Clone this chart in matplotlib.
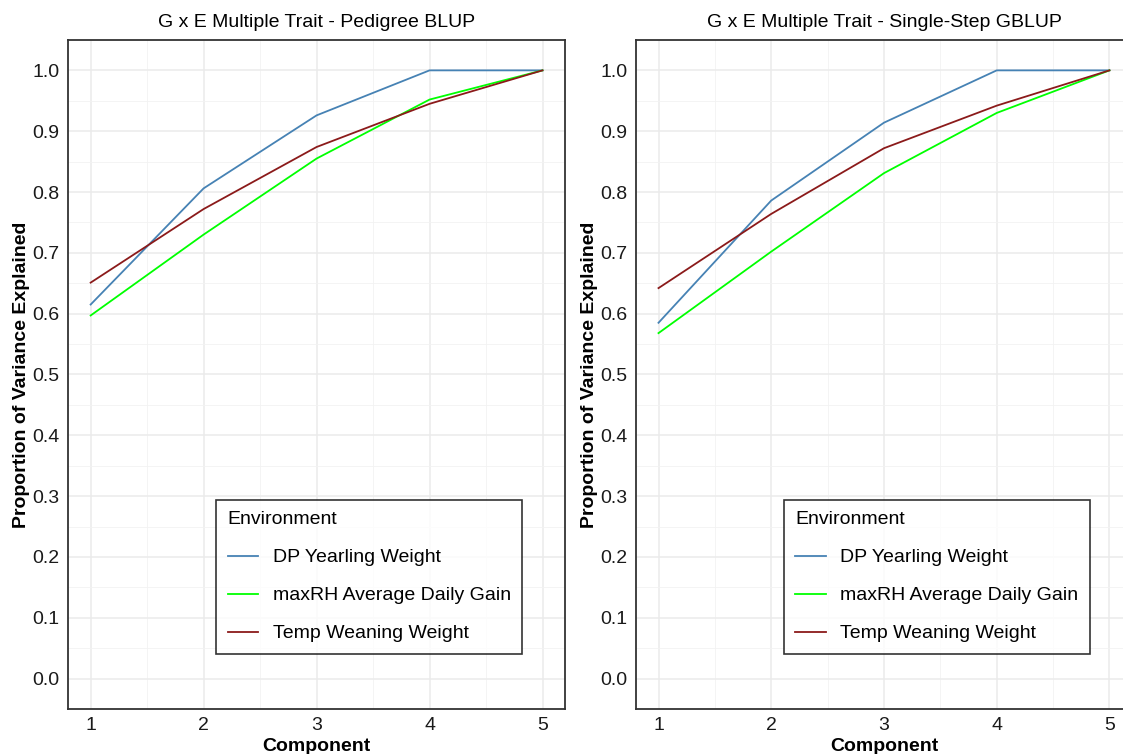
import numpy as np
import matplotlib.pyplot as plt

plt.rcParams['font.family'] = ['Liberation Sans', 'DejaVu Sans']

component = [1, 2, 3, 4, 5]
envs = ['DP Yearling Weight', 'maxRH Average Daily Gain', 'Temp Weaning Weight']
colors = ['#4682b4', '#00ff00', '#8b1a1a']

# Pedigree BLUP
ped_dp = [0.615, 0.806, 0.926, 1.0, 1.0]
ped_rh = [0.597, 0.730, 0.855, 0.952, 1.0]
ped_temp = [0.651, 0.772, 0.874, 0.945, 1.0]

# Single-Step GBLUP
ss_dp = [0.585, 0.786, 0.914, 1.0, 1.0]
ss_rh = [0.568, 0.702, 0.831, 0.930, 1.0]
ss_temp = [0.642, 0.764, 0.872, 0.942, 1.0]

titles = ['G x E Multiple Trait - Pedigree BLUP',
          'G x E Multiple Trait - Single-Step GBLUP']
panels = [[ped_dp, ped_rh, ped_temp], [ss_dp, ss_rh, ss_temp]]

fig = plt.figure(figsize=(11.23, 7.54), dpi=100)
positions = [[0.0606, 0.0597, 0.4426, 0.8873],
             [0.5663, 0.0597, 0.4417, 0.8873]]

for pos, title, series in zip(positions, titles, panels):
    ax = fig.add_axes(pos)
    for vals, lab, c in zip(series, envs, colors):
        ax.plot(component, vals, color=c, lw=1.3, label=lab)
    ax.set_xlim(0.8, 5.2)
    ax.set_ylim(-0.05, 1.05)
    ax.set_xticks(component)
    ax.set_yticks(np.arange(0, 1.01, 0.1))
    ax.set_yticklabels(['%.1f' % v for v in np.arange(0, 1.01, 0.1)])
    ax.set_xticks(np.arange(1.5, 5, 1), minor=True)
    ax.set_yticks(np.arange(0.05, 1.0, 0.1), minor=True)
    ax.grid(which='major', color='#ebebeb', linewidth=1.1)
    ax.grid(which='minor', color='#f2f2f2', linewidth=0.6)
    ax.set_axisbelow(True)
    ax.tick_params(which='both', length=0, labelsize=14, colors='#1a1a1a', pad=6)
    for s in ax.spines.values():
        s.set_color('#333333')
        s.set_linewidth(1.3)
    ax.set_title(title, fontsize=14, pad=9)
    ax.set_xlabel('Component', fontsize=14, fontweight='bold', labelpad=3)
    ax.set_ylabel('Proportion of Variance Explained', fontsize=14, fontweight='bold', labelpad=2)
    leg = ax.legend(title='Environment', loc='lower left', bbox_to_anchor=(0.298, 0.082),
                    borderaxespad=0, fontsize=14, title_fontsize=14, frameon=True,
                    fancybox=False, handlelength=1.55, labelspacing=1.05, borderpad=0.6,
                    handletextpad=0.75)
    leg._legend_box.align = 'left'
    leg.get_frame().set_edgecolor('black')
    leg.get_frame().set_linewidth(1.2)

fig.savefig('out.png', dpi=100)
